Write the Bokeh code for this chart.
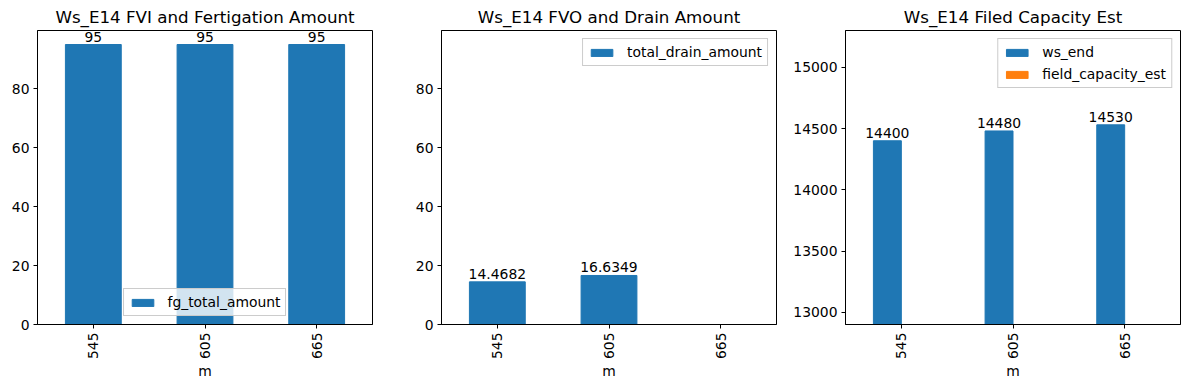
import math
import numpy as np
from bokeh.plotting import figure
from bokeh.layouts import row
from bokeh.models import (ColumnDataSource, FactorRange, Range1d,
                          SingleIntervalTicker, LabelSet)
from bokeh.core.properties import value
from bokeh.transform import dodge
from bokeh.embed import file_html
from bokeh.resources import INLINE

# ---- data ----
m = ["545", "605", "665"]
fg_total_amount = [95, 95, 95]
total_drain_amount = [14.4682, 16.6349, float("nan")]
ws_end = [14400, 14480, 14530]
field_capacity_est = [float("nan"), float("nan"), float("nan")]

titles = ["Ws_E14 FVI and Fertigation Amount",
          "Ws_E14 FVO and Drain Amount",
          "Ws_E14 Filed Capacity Est"]

FONT = "DejaVu Sans"
FS = "13.9px"
BLUE = "#1f77b4"
ORANGE = "#ff7f0e"


def fmt(v):
    return "" if (v is None or (isinstance(v, float) and math.isnan(v))) else "{:g}".format(v)


def make_fig(title, ylo, yhi, interval, left, right):
    p = figure(x_range=FactorRange(factors=m, range_padding=0),
               y_range=Range1d(ylo, yhi),
               frame_width=335, frame_height=294,
               min_border_left=left, min_border_right=right,
               min_border_top=30, min_border_bottom=0,
               output_backend="svg", toolbar_location=None, title=title)
    p.title.text_font = FONT
    p.title.text_font_size = "16.7px"
    p.title.text_font_style = "normal"
    p.title.align = "center"
    p.title.text_color = "black"
    p.title.standoff = 8
    p.outline_line_color = "black"
    p.outline_line_alpha = 1
    p.outline_line_width = 1
    p.xgrid.visible = False
    p.ygrid.visible = False
    p.yaxis.ticker = SingleIntervalTicker(interval=interval)
    for ax in (p.xaxis[0], p.yaxis[0]):
        ax.major_label_text_font = FONT
        ax.major_label_text_font_size = FS
        ax.major_label_text_color = "black"
        ax.axis_line_color = "black"
        ax.major_tick_line_color = "black"
        ax.major_tick_out = 4
        ax.major_tick_in = 0
        ax.minor_tick_line_color = None
        ax.major_label_standoff = 4
    p.xaxis.major_label_orientation = math.pi / 2
    p.xaxis.axis_label = "m"
    p.xaxis.axis_label_text_font = FONT
    p.xaxis.axis_label_text_font_size = FS
    p.xaxis.axis_label_text_font_style = "normal"
    p.xaxis.axis_label_text_color = "black"
    p.xaxis.axis_label_standoff = 1
    return p


def style_legend(p, loc):
    lg = p.legend[0]
    lg.location = loc
    lg.label_text_font = FONT
    lg.label_text_font_size = FS
    lg.label_text_color = "black"
    lg.border_line_color = "#cccccc"
    lg.border_line_alpha = 1
    lg.background_fill_color = "white"
    lg.background_fill_alpha = 0.8
    lg.glyph_width = 27
    lg.glyph_height = 9
    lg.label_height = 15
    lg.label_standoff = 12
    lg.padding = 5
    lg.spacing = 6
    lg.margin = 8


def add_labels(p, src, x, ycol, tcol):
    labels = LabelSet(x=x, y=ycol, text=tcol, source=src,
                      text_align="center", text_baseline="alphabetic", y_offset=3,
                      text_font=value(FONT), text_font_size=value(FS),
                      text_color="black")
    p.add_layout(labels)


# ---- panel 1 ----
src1 = ColumnDataSource(data=dict(m=m, v=np.array(fg_total_amount, dtype=float),
                                  t=[fmt(v) for v in fg_total_amount]))
p1 = make_fig(titles[0], 0, 99.75, 20, 37, 39)
p1.vbar(x="m", top="v", bottom=0, width=0.5, source=src1, color=BLUE,
        legend_label="fg_total_amount")
add_labels(p1, src1, "m", "v", "t")
style_legend(p1, "bottom_center")

# ---- panel 2 ----
src2 = ColumnDataSource(data=dict(m=m, v=np.array(total_drain_amount, dtype=float),
                                  t=[fmt(v) for v in total_drain_amount]))
p2 = make_fig(titles[1], 0, 99.75, 20, 30, 14)
p2.vbar(x="m", top="v", bottom=0, width=0.5, source=src2, color=BLUE,
        legend_label="total_drain_amount")
add_labels(p2, src2, "m", "v", "t")
style_legend(p2, "top_right")

# ---- panel 3 ----
src3 = ColumnDataSource(data=dict(m=m, a=np.array(ws_end, dtype=float),
                                  b=np.array(field_capacity_est, dtype=float),
                                  t=[fmt(v) for v in ws_end]))
p3 = make_fig(titles[2], 12900, 15300, 500, 50, 3)
p3.vbar(x=dodge("m", -0.125, range=p3.x_range), top="a", bottom=0, width=0.25,
        source=src3, color=BLUE, legend_label="ws_end")
p3.vbar(x=dodge("m", 0.125, range=p3.x_range), top="b", bottom=0, width=0.25,
        source=src3, color=ORANGE, legend_label="field_capacity_est")
add_labels(p3, src3, dodge("m", -0.125, range=p3.x_range), "a", "t")
style_legend(p3, "top_right")

layout = row(p1, p2, p3)
open("out.html", "w").write(file_html(layout, INLINE))
